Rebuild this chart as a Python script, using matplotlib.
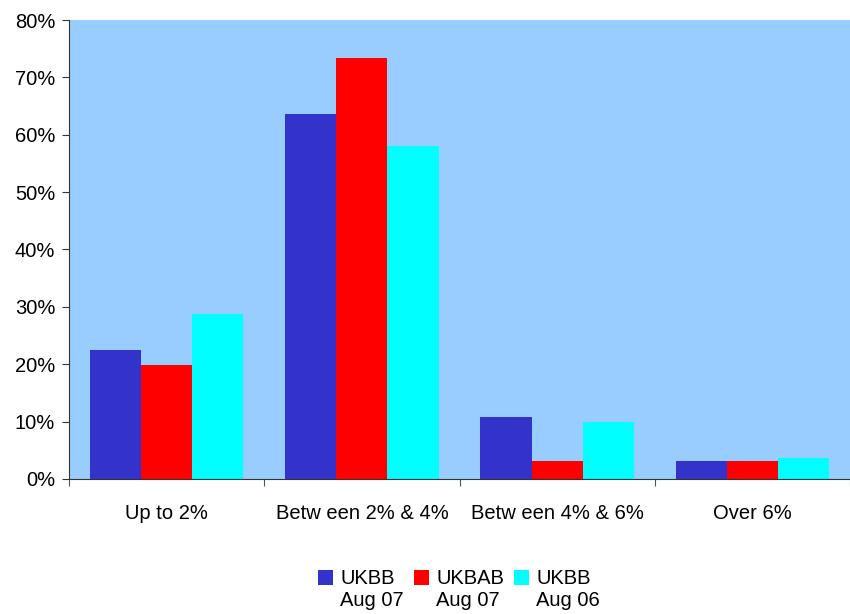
import numpy as np
import matplotlib.pyplot as plt
from matplotlib.ticker import FuncFormatter
from matplotlib.patches import Rectangle
from matplotlib.legend_handler import HandlerPatch

plt.rcParams['font.family'] = ['Liberation Sans', 'DejaVu Sans']
plt.rcParams['font.size'] = 14.5

# data (percent)
categories = ['Up to 2%', 'Betw een 2% & 4%', 'Betw een 4% & 6%', 'Over 6%']
series_names = ['UKBB\nAug 07', 'UKBAB\nAug 07', 'UKBB\nAug 06']
ukbb_aug07 = [22.5, 63.6, 10.8, 3.1]
ukbab_aug07 = [19.9, 73.4, 3.1, 3.1]
ukbb_aug06 = [28.7, 58.0, 9.9, 3.7]
colors = ['#3333CC', '#FF0000', '#00FFFF']

fig = plt.figure(figsize=(8.5, 6.14), dpi=100)
ax = fig.add_axes([69 / 850, 1 - 479 / 614, 1 - 69 / 850, (479 - 20) / 614])
ax.set_facecolor('#99CCFF')

x = np.arange(len(categories)) + 0.5
width = 0.262
for i, vals in enumerate([ukbb_aug07, ukbab_aug07, ukbb_aug06]):
    ax.bar(x + (i - 1) * width, vals, width, color=colors[i], linewidth=0)

ax.set_xlim(0, len(categories))
ax.set_ylim(0, 80)
ax.set_yticks(np.arange(0, 81, 10))
ax.yaxis.set_major_formatter(FuncFormatter(lambda v, p: f'{v:.0f}%'))

# category labels centred, tick marks on the boundaries
ax.set_xticks(np.arange(len(categories) + 1))
ax.set_xticklabels([])
ax.set_xticks(x, minor=True)
ax.set_xticklabels(categories, minor=True)
ax.tick_params(axis='x', which='minor', length=0, pad=18)
ax.tick_params(axis='x', which='major', length=5, color='#555555')
ax.tick_params(axis='y', length=5, color='#333333', pad=5)

for s in ['top', 'right']:
    ax.spines[s].set_visible(False)
ax.spines['left'].set_color('#333333')
ax.spines['bottom'].set_color('#333333')


# legend square sits next to the first line of the two-line label
def top_square(legend, orig_handle, xdescent, ydescent, width, height, fontsize):
    return Rectangle((-xdescent, -ydescent + 0.62 * fontsize), width, height)


handles = [Rectangle((0, 0), 1, 1, facecolor=c, linewidth=0) for c in colors]
fig.legend(handles, series_names, loc='center', bbox_to_anchor=(0.54, 0.04), ncol=3,
           frameon=False, handlelength=0.75, handleheight=0.75, handletextpad=0.35,
           columnspacing=0.5, labelspacing=0.2,
           handler_map={Rectangle: HandlerPatch(patch_func=top_square)})

plt.savefig('out.png', dpi=100)
